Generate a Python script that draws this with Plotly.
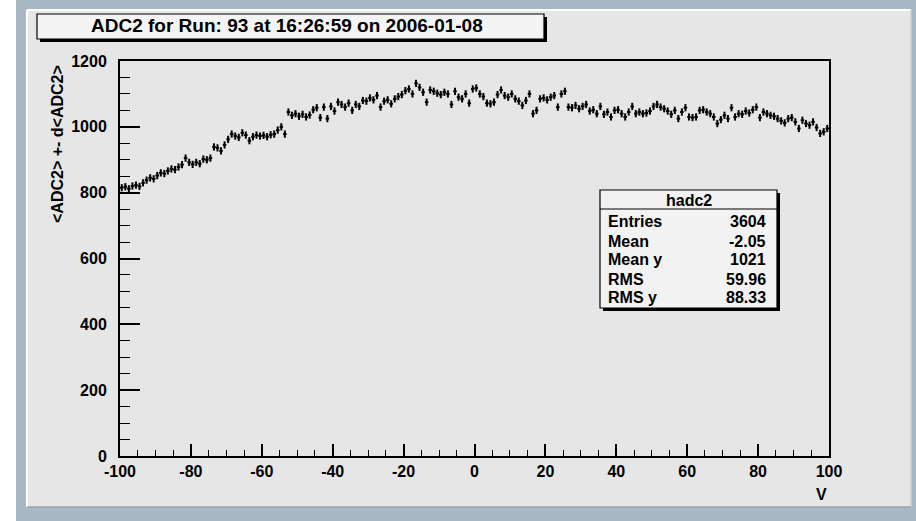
import plotly.graph_objects as go

# ---- data: profile of ADC2 versus V (200 bins of width 1 from -100 to 100) ----
BIN_LO = -100.0
BIN_HI = 100.0
N_BINS = 200

ADC2_MEAN = [
    # -100 .. -90
    815, 818, 812, 820, 823, 819, 830, 838, 845, 842,
    # -90 .. -80
    852, 860, 858, 866, 872, 870, 878, 885, 905, 892,
    # -80 .. -70
    886, 892, 888, 902, 900, 905, 939, 936, 927, 945,
    # -70 .. -60
    962, 978, 972, 968, 982, 975, 958, 970, 975, 972,
    # -60 .. -50
    974, 970, 976, 978, 990, 1000, 978, 1045, 1035, 1040,
    # -50 .. -40
    1032, 1038, 1030, 1036, 1052, 1058, 1028, 1060, 1025, 1062,
    # -40 .. -30
    1048, 1075, 1068, 1060, 1072, 1050, 1068, 1062, 1080, 1078,
    # -30 .. -20
    1088, 1082, 1095, 1060, 1078, 1082, 1070, 1085, 1092, 1098,
    # -20 .. -10
    1110, 1115, 1100, 1132, 1120, 1105, 1075, 1112, 1108, 1102,
    # -10 .. 0
    1098, 1105, 1100, 1068, 1108, 1090, 1085, 1100, 1072, 1115,
    # 0 .. 10
    1118, 1100, 1092, 1072, 1070, 1075, 1098, 1112, 1095, 1090,
    # 10 .. 20
    1100, 1085, 1078, 1065, 1080, 1100, 1040, 1050, 1085, 1088,
    # 20 .. 30
    1082, 1090, 1095, 1060, 1100, 1108, 1060, 1058, 1065, 1055,
    # 30 .. 40
    1062, 1068, 1048, 1052, 1040, 1062, 1038, 1045, 1030, 1050,
    # 40 .. 50
    1052, 1040, 1030, 1045, 1062, 1040, 1045, 1040, 1042, 1048,
    # 50 .. 60
    1062, 1068, 1060, 1055, 1048, 1038, 1050, 1025, 1045, 1058,
    # 60 .. 70
    1030, 1028, 1030, 1050, 1052, 1045, 1040, 1030, 1010, 1022,
    # 70 .. 80
    1035, 1025, 1058, 1030, 1040, 1038, 1048, 1042, 1052, 1060,
    # 80 .. 90
    1028, 1045, 1040, 1035, 1032, 1025, 1018, 1012, 1025, 1028,
    # 90 .. 100
    1015, 995, 1020, 1010, 1005, 1015, 998, 980, 985, 995,
]
ADC2_ERR = 11.0

X_TICKS = [-100, -80, -60, -40, -20, 0, 20, 40, 60, 80, 100]
X_TICK_TEXT = ["-100", "-80", "-60", "-40", "-20", "0", "20", "40", "60", "80", "100"]
Y_TICKS = [0, 200, 400, 600, 800, 1000, 1200]
Y_TICK_TEXT = ["0", "200", "400", "600", "800", "1000", "1200"]

TITLE = "ADC2 for Run: 93 at 16:26:59 on 2006-01-08"
X_TITLE = "V"
Y_TITLE = "&lt;ADC2&gt; +- d&lt;ADC2&gt;"
STATS_NAME = "hadc2"
STATS_ROWS = [
    ("Entries", "3604"),
    ("Mean", "-2.05"),
    ("Mean y", "1021"),
    ("RMS", "59.96"),
    ("RMS y", "88.33"),
]

bin_w = (BIN_HI - BIN_LO) / N_BINS
v_centers = [BIN_LO + (i + 0.5) * bin_w for i in range(N_BINS)]

# ---- geometry (pixels of the 916x521 page) ----
FIG_W, FIG_H = 916, 521
PL, PR, PT, PB = 120, 829, 61, 456   # plot frame


def fx(x):
    return (x - PL) / (PR - PL)


def fy(y):
    return (PB - y) / (PB - PT)


FONT = "Liberation Sans, Arial, sans-serif"
FRAME_BLUE = "#A9B7C5"
CANVAS = "#E6E6E6"

fig = go.Figure()
fig.add_trace(go.Scatter(
    x=v_centers, y=ADC2_MEAN, mode="markers",
    marker=dict(size=1, color="black"),
    error_x=dict(type="constant", value=bin_w / 2, width=0, thickness=2, color="black"),
    error_y=dict(type="constant", value=ADC2_ERR, width=0, thickness=2, color="black"),
    hoverinfo="x+y", showlegend=False,
))

shapes = []


def rect(x0, y0, x1, y1, fill, line_color=None, line_width=0, layer="above"):
    shapes.append(dict(
        type="rect", xref="paper", yref="paper",
        x0=fx(x0), x1=fx(x1), y0=fy(y1), y1=fy(y0),
        fillcolor=fill, layer=layer,
        line=dict(color=line_color or fill, width=line_width),
    ))


def line(x0, y0, x1, y1, color, width, layer="above"):
    shapes.append(dict(type="line", xref="paper", yref="paper",
                       x0=fx(x0), x1=fx(x1), y0=fy(y0), y1=fy(y1),
                       line=dict(color=color, width=width), layer=layer))


# canvas window frame with bevel
rect(16, 0, 916, 521, FRAME_BLUE, layer="below")
rect(27, 10, 911, 507, CANVAS, layer="below")
line(27, 10, 27, 507, "white", 2, "below")
line(27, 10, 911, 10, "white", 2, "below")
line(27, 507, 911, 507, "#9AA3AC", 1.5, "below")
line(911, 10, 911, 507, "#C9CED3", 1.5, "below")

# title pave with shadow
rect(40, 17, 547, 42, "black")
rect(37, 14, 544, 39, "#F4F4F4", "black", 1.2)

# statistics box with shadow
rect(603, 193, 780, 311, "black")
rect(600, 190, 777, 308, "#F2F2F2", "black", 1.2)
line(600, 209, 777, 209, "black", 1.2)

annotations = [
    dict(text=TITLE, x=fx(287), y=fy(26), xref="paper", yref="paper",
         showarrow=False, xanchor="center", yanchor="middle",
         font=dict(family=FONT, size=19, color="black", weight="bold")),
    dict(text=Y_TITLE, x=fx(57), y=fy(144), xref="paper", yref="paper",
         showarrow=False, textangle=-90, xanchor="center", yanchor="middle",
         font=dict(family=FONT, size=16, color="black", weight="bold")),
    dict(text=X_TITLE, x=fx(821), y=fy(494), xref="paper", yref="paper",
         showarrow=False, xanchor="center", yanchor="middle",
         font=dict(family=FONT, size=16, color="black", weight="bold")),
    dict(text=STATS_NAME, x=fx(689), y=fy(200), xref="paper", yref="paper",
         showarrow=False, xanchor="center", yanchor="middle",
         font=dict(family=FONT, size=16, color="black", weight="bold")),
]
row_y = [221, 241, 259, 279, 297]
for (lab, val), yy in zip(STATS_ROWS, row_y):
    annotations.append(dict(text=lab, x=fx(606), y=fy(yy), xref="paper", yref="paper",
                            showarrow=False, xanchor="left", yanchor="middle",
                            font=dict(family=FONT, size=16, color="black", weight="bold")))
    annotations.append(dict(text=val, x=fx(768), y=fy(yy), xref="paper", yref="paper",
                            showarrow=False, xanchor="right", yanchor="middle",
                            font=dict(family=FONT, size=16, color="black", weight="bold")))

tickfont = dict(family=FONT, size=16, color="black", weight="bold")

fig.update_layout(
    width=FIG_W, height=FIG_H,
    margin=dict(l=PL, r=FIG_W - PR, t=PT, b=FIG_H - PB, pad=0),
    paper_bgcolor="white", plot_bgcolor=CANVAS,
    shapes=shapes, annotations=annotations,
    xaxis=dict(
        range=[BIN_LO, BIN_HI], tickmode="array", tickvals=X_TICKS, ticktext=X_TICK_TEXT,
        ticks="inside", ticklen=12, tickwidth=1.5, tickcolor="black",
        showline=True, linewidth=2, linecolor="black", mirror=True,
        showgrid=False, zeroline=False, tickfont=tickfont,
        minor=dict(dtick=5, tick0=-100, ticks="inside", ticklen=6, tickwidth=1,
                   tickcolor="black", showgrid=False),
    ),
    yaxis=dict(
        range=[0, 1200], tickmode="array", tickvals=Y_TICKS, ticktext=Y_TICK_TEXT,
        ticks="inside", ticklen=20, tickwidth=1.5, tickcolor="black",
        showline=True, linewidth=2, linecolor="black", mirror=True,
        showgrid=False, zeroline=False, tickfont=tickfont,
        ticklabelstandoff=8,
        minor=dict(dtick=50, tick0=0, ticks="inside", ticklen=10, tickwidth=1,
                   tickcolor="black", showgrid=False),
    ),
)

fig.write_html("out.html")
